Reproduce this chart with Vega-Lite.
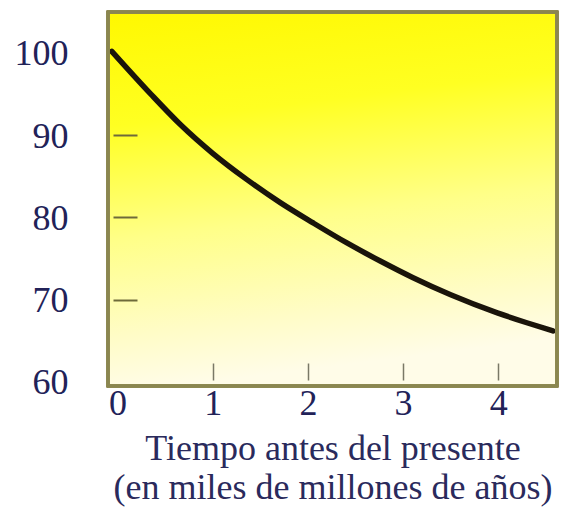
{
  "$schema": "https://vega.github.io/schema/vega-lite/v6.json",
  "autosize": "none",
  "width": 449,
  "height": 374,
  "padding": {"left": 108, "top": 12, "right": 8, "bottom": 126},
  "background": "#ffffff",
  "config": {"view": {"stroke": null}},
  "data": {"values": [
    {"t": -0.06, "v": 100.2},
    {"t": 0.35, "v": 95.0},
    {"t": 0.66, "v": 91.3},
    {"t": 1.0, "v": 87.8},
    {"t": 1.36, "v": 84.6},
    {"t": 1.71, "v": 81.8},
    {"t": 2.06, "v": 79.3},
    {"t": 2.41, "v": 76.9},
    {"t": 2.76, "v": 74.7},
    {"t": 3.1, "v": 72.7},
    {"t": 3.5, "v": 70.6},
    {"t": 3.99, "v": 68.4},
    {"t": 4.3, "v": 67.2},
    {"t": 4.575, "v": 66.2}
  ]},
  "resolve": {"axis": {"x": "independent", "y": "independent"}},
  "layer": [
    {
      "mark": {"type": "rect", "fill": {"gradient": "linear", "x1": 0, "y1": 0, "x2": 0.15, "y2": 1, "stops": [
        {"offset": 0, "color": "#fff800"},
        {"offset": 0.3, "color": "#ffff22"},
        {"offset": 0.6, "color": "#ffff88"},
        {"offset": 0.85, "color": "#fffcc6"},
        {"offset": 1, "color": "#fffce8"}
      ]}},
      "encoding": {
        "x": {"value": 0}, "x2": {"value": "width"},
        "y": {"value": 0}, "y2": {"value": "height"}
      }
    },
    {
      "mark": {"type": "line", "color": "#1a140a", "strokeWidth": 5.5, "interpolate": "monotone", "strokeCap": "round"},
      "encoding": {
        "x": {"field": "t", "type": "quantitative", "scale": {"domain": [-0.1, 4.617], "nice": false, "zero": false},
          "axis": {"orient": "bottom", "values": [0, 1, 2, 3, 4], "ticks": false, "tickSize": 0, "domain": false, "grid": false,
            "labelFont": "Liberation Serif", "labelFontSize": 36, "labelColor": "#222258", "labelPadding": 0,
            "title": ["Tiempo antes del presente", "(en miles de millones de años)"],
            "titleFont": "Liberation Serif", "titleFontSize": 36, "titleFontWeight": "normal", "titleColor": "#2a2a5c",
            "titleLineHeight": 39, "titlePadding": 10}},
        "y": {"field": "v", "type": "quantitative", "scale": {"domain": [59.51, 104.98], "nice": false, "zero": false},
          "axis": {"orient": "left", "values": [60, 70, 80, 90, 100], "ticks": false, "tickSize": 0, "domain": false, "grid": false,
            "labelFont": "Liberation Serif", "labelFontSize": 36, "labelColor": "#222258", "labelPadding": 40, "labelOffset": 1, "title": null}}
      }
    },
    {
      "mark": {"type": "line", "opacity": 0},
      "encoding": {
        "x": {"field": "t", "type": "quantitative",
          "axis": {"orient": "bottom", "values": [1, 2, 3, 4], "labels": false, "domain": false, "grid": false, "zindex": 1,
            "ticks": true, "tickSize": -17, "tickWidth": 1.5, "tickColor": "#7a7866", "offset": -6, "title": null}},
        "y": {"field": "v", "type": "quantitative",
          "axis": {"orient": "left", "values": [70, 80, 90], "labels": false, "domain": false, "grid": false, "zindex": 1,
            "ticks": true, "tickSize": -24, "tickWidth": 2, "tickColor": "#6e6a3a", "offset": -5, "title": null}}
      }
    },
    {
      "mark": {"type": "rect", "fill": null, "stroke": "#8a8650", "strokeWidth": 2.5},
      "encoding": {
        "x": {"value": 0}, "x2": {"value": "width"},
        "y": {"value": 0}, "y2": {"value": "height"}
      }
    }
  ]
}
